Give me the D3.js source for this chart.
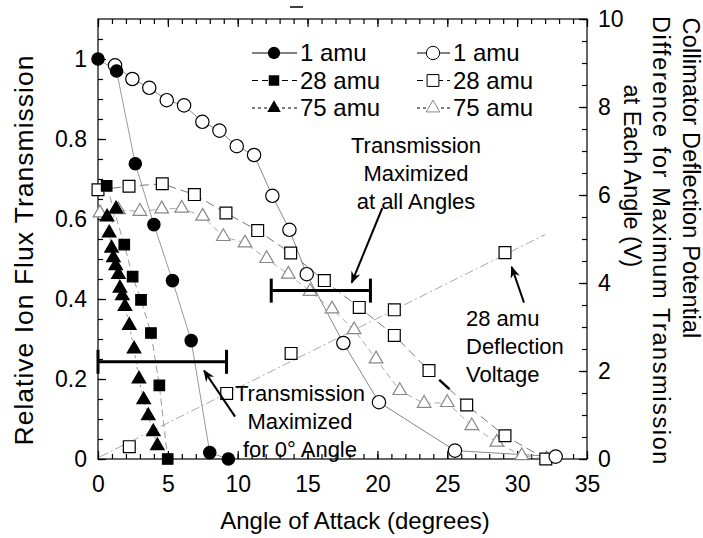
<!DOCTYPE html>
<html>
<head>
<meta charset="utf-8">
<script src="https://cdn.jsdelivr.net/npm/d3@7"></script>
<style>
  body { margin: 0; background: #fff; }
  svg { font-family: "Liberation Sans", Arial, Helvetica, sans-serif; }
</style>
</head>
<body>
<svg id="chart" width="703" height="538"></svg>
<script>
// DATA
var xTicks = [0, 5, 10, 15, 20, 25, 30, 35];
var yLeftTicks = [0, 0.2, 0.4, 0.6, 0.8, 1];
var yRightTicks = [0, 2, 4, 6, 8, 10];

// 1 amu, transmission maximized for 0 deg
var fCircleX = [0, 1.33, 2.67, 4.0, 5.33, 6.67, 8.0, 9.33];
var fCircleY = [1.0, 0.97, 0.738, 0.586, 0.446, 0.296, 0.016, 0.0];
// 28 amu
var fSquareX = [0.62, 1.88, 2.48, 3.08, 3.79, 4.39, 4.99];
var fSquareY = [0.683, 0.536, 0.456, 0.398, 0.315, 0.184, 0.0];
// 75 amu
var fTriX = [0.65, 1.29, 0.8, 0.97, 1.1, 1.27, 1.46, 1.57, 1.74, 1.93, 2.24, 2.58, 2.93, 3.27, 3.6, 3.96, 4.25];
var fTriY = [0.605, 0.625, 0.565, 0.527, 0.503, 0.483, 0.461, 0.427, 0.408, 0.381, 0.334, 0.275, 0.2, 0.148, 0.108, 0.068, 0.033];

// transmission maximized at all angles
var oCircleX = [1.22, 2.46, 3.67, 4.92, 6.16, 7.47, 8.69, 9.93, 11.17, 12.48, 13.7, 14.94, 17.56, 20.11, 25.55, 32.76];
var oCircleY = [0.984, 0.95, 0.928, 0.897, 0.884, 0.843, 0.821, 0.782, 0.76, 0.658, 0.573, 0.462, 0.29, 0.142, 0.021, 0.006];
var oSquareX = [0, 2.22, 4.6, 6.9, 9.16, 11.43, 13.79, 16.2, 18.7, 21.21, 23.69, 26.39, 29.13, 32.05];
var oSquareY = [0.673, 0.682, 0.688, 0.661, 0.615, 0.571, 0.515, 0.446, 0.379, 0.309, 0.221, 0.135, 0.058, 0.0];
var oTriX = [0.14, 1.46, 3.0, 4.56, 5.99, 7.49, 8.97, 10.52, 12.07, 13.62, 15.18, 16.75, 18.33, 19.9, 21.6, 23.34, 25.0, 26.75, 28.54, 30.33, 32.1];
var oTriY = [0.615, 0.623, 0.619, 0.625, 0.627, 0.607, 0.556, 0.54, 0.501, 0.462, 0.419, 0.375, 0.323, 0.25, 0.171, 0.139, 0.141, 0.083, 0.042, 0.008, 0.0];

// 28 amu deflection voltage (right axis)
var deflX = [2.24, 9.21, 13.82, 21.21, 29.13];
var deflV = [0.28, 1.49, 2.4, 3.39, 4.69];
var fitX = [0.14, 32];
var fitV = [0.05, 5.1];

// angle ranges of the two "transmission maximized" bars
var bar0X = [0, 9.2], bar0Y = 0.243;
var barAllX = [12.4, 19.5], barAllY = 0.421;

var legendLabels = ["1 amu", "28 amu", "75 amu"];

function zip(xs, ys) { return xs.map(function (d, i) { return [d, ys[i]]; }); }

var svg = d3.select("#chart");
var mLeft = 98, mRight = 587, mTop = 19, mBottom = 459;

var x = d3.scaleLinear().domain([0, 35]).range([mLeft, mRight]);
var yL = d3.scaleLinear().domain([0, 1.1]).range([mBottom, mTop]);
var yR = d3.scaleLinear().domain([0, 10]).range([mBottom, mTop]);

var fmt = d3.format("~g");

// axes: major + minor ticks, all pointing inward
svg.append("g").attr("transform", "translate(0," + mBottom + ")")
    .call(d3.axisBottom(x).tickValues(xTicks).tickSize(-8).tickPadding(17).tickFormat(fmt));
svg.append("g").attr("transform", "translate(0," + mBottom + ")")
    .call(d3.axisBottom(x).tickValues(d3.range(0, 36, 1)).tickSize(-5).tickFormat(""));
svg.append("g").attr("transform", "translate(0," + mTop + ")")
    .call(d3.axisTop(x).tickValues(xTicks).tickSize(-8).tickFormat(""));
svg.append("g").attr("transform", "translate(0," + mTop + ")")
    .call(d3.axisTop(x).tickValues(d3.range(0, 36, 1)).tickSize(-5).tickFormat(""));
svg.append("g").attr("transform", "translate(" + mLeft + ",0)")
    .call(d3.axisLeft(yL).tickValues(yLeftTicks).tickSize(-8).tickPadding(11).tickFormat(fmt));
svg.append("g").attr("transform", "translate(" + mLeft + ",0)")
    .call(d3.axisLeft(yL).tickValues(d3.range(0, 22).map(function (i) { return i * 0.05; })).tickSize(-5).tickFormat(""));
svg.append("g").attr("transform", "translate(" + mRight + ",0)")
    .call(d3.axisRight(yR).tickValues(yRightTicks).tickSize(-8).tickPadding(11).tickFormat(fmt));
svg.append("g").attr("transform", "translate(" + mRight + ",0)")
    .call(d3.axisRight(yR).tickValues(d3.range(0, 21).map(function (i) { return i * 0.5; })).tickSize(-5).tickFormat(""));

svg.selectAll(".domain").remove();
svg.selectAll(".tick line").attr("stroke", "#000").attr("stroke-width", 1.2);
svg.selectAll(".tick text").attr("font-size", "23px").attr("fill", "#000")
    .attr("font-family", "Liberation Sans, Arial, sans-serif");

svg.append("rect").attr("x", mLeft).attr("y", mTop)
    .attr("width", mRight - mLeft).attr("height", mBottom - mTop)
    .attr("fill", "none").attr("stroke", "#000").attr("stroke-width", 1.2);

// stray mark above the frame
svg.append("line").attr("x1", 290).attr("x2", 303).attr("y1", 7).attr("y2", 7)
    .attr("stroke", "#000").attr("stroke-width", 1.5);

// titles
svg.append("text").attr("x", 355).attr("y", 529).attr("text-anchor", "middle")
    .attr("font-size", "24px").text("Angle of Attack (degrees)");
svg.append("text").attr("transform", "translate(33,250) rotate(-90)")
    .attr("text-anchor", "middle").attr("font-size", "26.5px").attr("letter-spacing", 1)
    .text("Relative Ion Flux Transmission");
var rTitle = [
    ["Collimator Deflection Potential", 683, 178, 0.2],
    ["Difference for Maximum Transmission", 653, 241, 1.6],
    ["at Each Angle (V)", 624, 176, 0]
];
rTitle.forEach(function (t) {
    svg.append("text").attr("transform", "translate(" + t[1] + "," + t[2] + ") rotate(90)")
        .attr("text-anchor", "middle").attr("font-size", "23.5px")
        .attr("letter-spacing", t[3]).text(t[0]);
});

// series lines
function drawLine(data, yScale, color, dash, w) {
    svg.append("path").datum(data)
        .attr("d", d3.line().x(function (d) { return x(d[0]); }).y(function (d) { return yScale(d[1]); }))
        .attr("fill", "none").attr("stroke", color).attr("stroke-width", w || 1)
        .attr("stroke-dasharray", dash);
}
drawLine(zip(fitX, fitV), yR, "#aaa", "9,3,2,3");
drawLine(zip(oTriX, oTriY), yL, "#aaa", "6,4");
drawLine(zip(oSquareX, oSquareY), yL, "#777", "9,5");
drawLine(zip(oCircleX, oCircleY), yL, "#888", null);
drawLine(zip(fTriX, fTriY), yL, "#999", "3,3");
drawLine(zip(fSquareX, fSquareY), yL, "#999", "7,4");
drawLine(zip(fCircleX, fCircleY), yL, "#999", null);

// markers
var sym = {
    circle: d3.symbol(d3.symbolCircle, 120)(),
    circleO: d3.symbol(d3.symbolCircle, 140)(),
    square: d3.symbol(d3.symbolSquare, 110)(),
    squareO: d3.symbol(d3.symbolSquare, 140)(),
    tri: d3.symbol(d3.symbolTriangle, 80)()
};
function drawMarks(data, yScale, shape, fill, stroke) {
    svg.append("g").selectAll("path").data(data).enter().append("path")
        .attr("transform", function (d) { return "translate(" + x(d[0]) + "," + yScale(d[1]) + ")"; })
        .attr("d", sym[shape]).attr("fill", fill).attr("stroke", stroke).attr("stroke-width", 1.2);
}
drawMarks(zip(deflX, deflV), yR, "squareO", "#fff", "#000");
drawMarks(zip(oTriX, oTriY), yL, "tri", "#fff", "#888");
drawMarks(zip(oSquareX, oSquareY), yL, "squareO", "#fff", "#000");
drawMarks(zip(oCircleX, oCircleY), yL, "circleO", "#fff", "#000");
drawMarks(zip(fTriX, fTriY), yL, "tri", "#000", "#000");
drawMarks(zip(fSquareX, fSquareY), yL, "square", "#000", "#000");
drawMarks(zip(fCircleX, fCircleY), yL, "circle", "#000", "#000");

// horizontal range bars
[[bar0X, bar0Y], [barAllX, barAllY]].forEach(function (b) {
    var g = svg.append("g").attr("stroke", "#000").attr("stroke-width", 3);
    var yy = yL(b[1]);
    g.append("line").attr("x1", x(b[0][0])).attr("x2", x(b[0][1])).attr("y1", yy).attr("y2", yy);
    g.append("line").attr("x1", x(b[0][0])).attr("x2", x(b[0][0])).attr("y1", yy - 12).attr("y2", yy + 12);
    g.append("line").attr("x1", x(b[0][1])).attr("x2", x(b[0][1])).attr("y1", yy - 12).attr("y2", yy + 12);
});

// arrows
svg.append("defs").append("marker").attr("id", "head")
    .attr("viewBox", "0 0 10 10").attr("refX", 9).attr("refY", 5)
    .attr("markerWidth", 6).attr("markerHeight", 6).attr("orient", "auto")
    .attr("markerUnits", "strokeWidth")
    .append("path").attr("d", "M0,1 L10,5 L0,9 L3,5 Z").attr("fill", "#000");
var arrows = [
    [[9.81, 0.106], [7.59, 0.221]],
    [[20.35, 0.6275], [18.16, 0.441]],
    [[30.49, 0.391], [29.61, 0.48]]
];
arrows.forEach(function (a) {
    svg.append("line").attr("x1", x(a[0][0])).attr("y1", yL(a[0][1]))
        .attr("x2", x(a[1][0])).attr("y2", yL(a[1][1]))
        .attr("stroke", "#000").attr("stroke-width", 2).attr("marker-end", "url(#head)");
});
svg.append("line").attr("x1", x(24.43)).attr("y1", yL(0.198)).attr("x2", x(25.15)).attr("y2", yL(0.1745))
    .attr("stroke", "#000").attr("stroke-width", 2.5);

// annotation text
function lines(arr, px, py, anchor) {
    var t = svg.append("text").attr("font-size", "22px").attr("text-anchor", anchor);
    arr.forEach(function (s, i) {
        t.append("tspan").attr("x", px).attr("y", py + i * 28).text(s);
    });
}
lines(["Transmission", "Maximized", "at all Angles"], 416, 153, "middle");
lines(["Transmission", "Maximized", "for 0\u00b0 Angle"], 300, 401, "middle");
lines(["28 amu", "Deflection", "Voltage"], 466, 326, "start");

// legend
var rows = [
    { dash: null, shape: "circle", oshape: "circleO" },
    { dash: "6,4", shape: "square", oshape: "squareO" },
    { dash: "3,3", shape: "tri", oshape: "tri" }
];
rows.forEach(function (r, i) {
    var yy = 53 + i * 27.5;
    svg.append("line").attr("x1", 252).attr("x2", 297).attr("y1", yy).attr("y2", yy)
        .attr("stroke", "#000").attr("stroke-dasharray", r.dash);
    svg.append("path").attr("transform", "translate(274," + yy + ")").attr("d", sym[r.shape]).attr("fill", "#000");
    svg.append("text").attr("x", 300).attr("y", yy + 8).attr("font-size", "24px").text(legendLabels[i]);
    svg.append("line").attr("x1", 417).attr("x2", 450).attr("y1", yy).attr("y2", yy)
        .attr("stroke", "#000").attr("stroke-dasharray", r.dash);
    svg.append("path").attr("transform", "translate(433," + yy + ")").attr("d", sym[r.oshape])
        .attr("fill", "#fff").attr("stroke", i == 2 ? "#888" : "#000");
    svg.append("text").attr("x", 453).attr("y", yy + 8).attr("font-size", "24px").text(legendLabels[i]);
});
</script>
</body>
</html>
